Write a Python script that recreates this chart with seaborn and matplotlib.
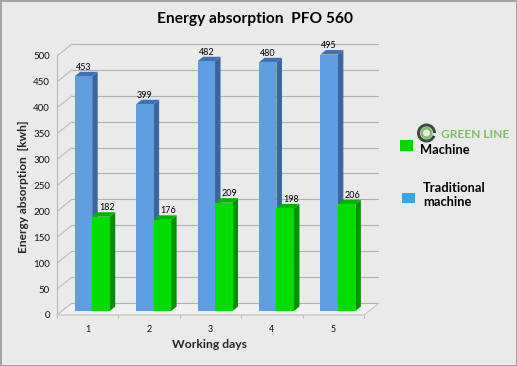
import pandas as pd
import seaborn as sns
import matplotlib.pyplot as plt
from matplotlib.patches import Rectangle, Wedge, Polygon

days = ['1', '2', '3', '4', '5']
traditional = [453, 399, 482, 480, 495]
machine = [182, 176, 209, 198, 206]
y_ticks = [0, 50, 100, 150, 200, 250, 300, 350, 400, 450, 500]

df = pd.DataFrame({
    'day': days * 2,
    'kwh': traditional + machine,
    'kind': ['Traditional machine'] * 5 + ['Machine'] * 5,
})

sns.set_style('white')
plt.rcParams['font.family'] = ['Lato', 'DejaVu Sans']

bg = '#EAEAEA'
fig = plt.figure(figsize=(5.17, 3.66), dpi=100, facecolor=bg, edgecolor='#A4A4A4', linewidth=2)

# axes placed by hand, pixel positions
ax = fig.add_axes([57 / 517, 51 / 366, (378.8 - 57) / 517, 272 / 366], facecolor='none')
sns.barplot(data=df, x='day', y='kwh', hue='kind', hue_order=['Traditional machine', 'Machine'],
            palette={'Traditional machine': '#5F9DE2', 'Machine': '#00DE00'},
            width=0.57, saturation=1, legend=False, ax=ax, linewidth=0, edgecolor='none')
ax.set_xlim(-0.5, 4.74)
ax.set_ylim(0, 525)

# px to data units
px_x = 1 / 61.4
px_y = 500 / 259

# floor and back wall
back_x = 15 * px_x
back_y = 12 * px_y
ax.add_patch(Polygon([(-0.5, 0), (4.5, 0), (4.5 + back_x, back_y), (-0.5 + back_x, back_y)],
                     facecolor='#F1F1F1', edgecolor='none', zorder=0))
for t in y_ticks:
    ax.plot([-0.5 + back_x, 4.5 + back_x], [t + back_y, t + back_y], color='#B0B0B0', lw=0.8, zorder=1)
    ax.plot([-0.5, -0.5 + back_x], [t, t + back_y], color='#BABABA', lw=0.8, zorder=1)
ax.plot([4.5, 4.5 + back_x], [0, back_y], color='#C4C4C4', lw=0.8, zorder=1)

# shift front faces onto the floor and add side + top faces
side_x = 5.5 * px_x
side_y = 4.5 * px_y
n = len(days)
bars = list(ax.containers[0]) + list(ax.containers[1])
for i, p in enumerate(bars):
    v = (traditional + machine)[i]
    p.set_x(p.get_x() + 4.5 * px_x)
    p.set_y(4 * px_y)
    x0 = p.get_x()
    x1 = x0 + p.get_width()
    y0 = p.get_y()
    y1 = y0 + v
    z = 2 if i < n else 4
    p.set_zorder(z + 0.5)
    side, top = ('#3A659F', '#3F72B5') if i < n else ('#009000', '#00B400')
    ax.add_patch(Polygon([(x1, y0), (x1 + side_x, y0 + side_y), (x1 + side_x, y1 + side_y), (x1, y1)],
                         facecolor=side, edgecolor='none', zorder=z))
    ax.add_patch(Polygon([(x0, y1), (x1, y1), (x1 + side_x, y1 + side_y), (x0 + side_x, y1 + side_y)],
                         facecolor=top, edgecolor='none', zorder=z))
    # value labels
    cx = x0 + p.get_width() / 2 + (0 if i < n else 6 * px_x)
    ax.annotate(str(v), (cx, y1), xytext=(0, 6.5), textcoords='offset points', ha='center', va='center',
                fontsize=6.5, color='black', zorder=6)

sns.despine(ax=ax, top=True, right=True)
ax.spines['left'].set_bounds(0, 500)
ax.spines['left'].set_color('#B8B8B8')
ax.spines['bottom'].set_bounds(-0.5, 4.5)
ax.spines['bottom'].set_color('#D4D0CC')
ax.spines['bottom'].set_linewidth(1.4)

ax.set_yticks(y_ticks)
ax.set_xticks(range(n))
ax.set_xticks([i - 0.5 for i in range(n + 1)], minor=True)
ax.tick_params(axis='y', length=3, width=0.8, color='#B8B8B8', labelsize=7, pad=2, labelcolor='#111111')
ax.tick_params(axis='x', which='major', length=0, labelsize=6.5, pad=7, labelcolor='#111111')
ax.tick_params(axis='x', which='minor', length=2, width=0.8, color='#B8B8B8', bottom=True)

ax.set_xlabel('Working days', fontsize=8.7, fontweight='bold', labelpad=4, x=0.475)
ax.set_ylabel('Energy absorption  [kwh]', fontsize=8.6, fontweight='bold', labelpad=3, y=0.47)

# overlay in pixels for title and hand made legend
over = fig.add_axes([0, 0, 1, 1], facecolor='none')
over.set_xlim(0, 517)
over.set_ylim(366, 0)
over.axis('off')
over.text(255, 19, 'Energy absorption  PFO 560', ha='center', va='center', fontsize=11.2,
          fontweight='bold', color='black')
over.add_patch(Rectangle((400, 140), 13, 10.5, facecolor='#00D800', edgecolor='none'))
over.add_patch(Rectangle((402, 193), 13, 10, facecolor='#39A5EA', edgecolor='none'))
over.text(420, 150.5, 'Machine', ha='left', va='center', fontsize=9.3, fontweight='bold', color='black')
over.text(423, 195, 'Traditional\nmachine', ha='left', va='center', fontsize=9.3, fontweight='bold',
          color='black', linespacing=1.3)

# logo
over.add_patch(Wedge((426.5, 133), 9.5, 180, 360, width=3, facecolor='#3C4A3C', edgecolor='none'))
over.add_patch(Wedge((426.5, 133), 9.5, 20, 180, width=3, facecolor='#3C4A3C', edgecolor='none'))
over.add_patch(Wedge((426.5, 133), 6, 0, 360, width=2.5, facecolor='#7DBE62', edgecolor='none'))
over.text(475.5, 134.5, 'GREEN LINE', ha='center', va='center', fontsize=8.6, color='#7DBE62', fontweight='bold')

fig.savefig('out.png', dpi=100)
